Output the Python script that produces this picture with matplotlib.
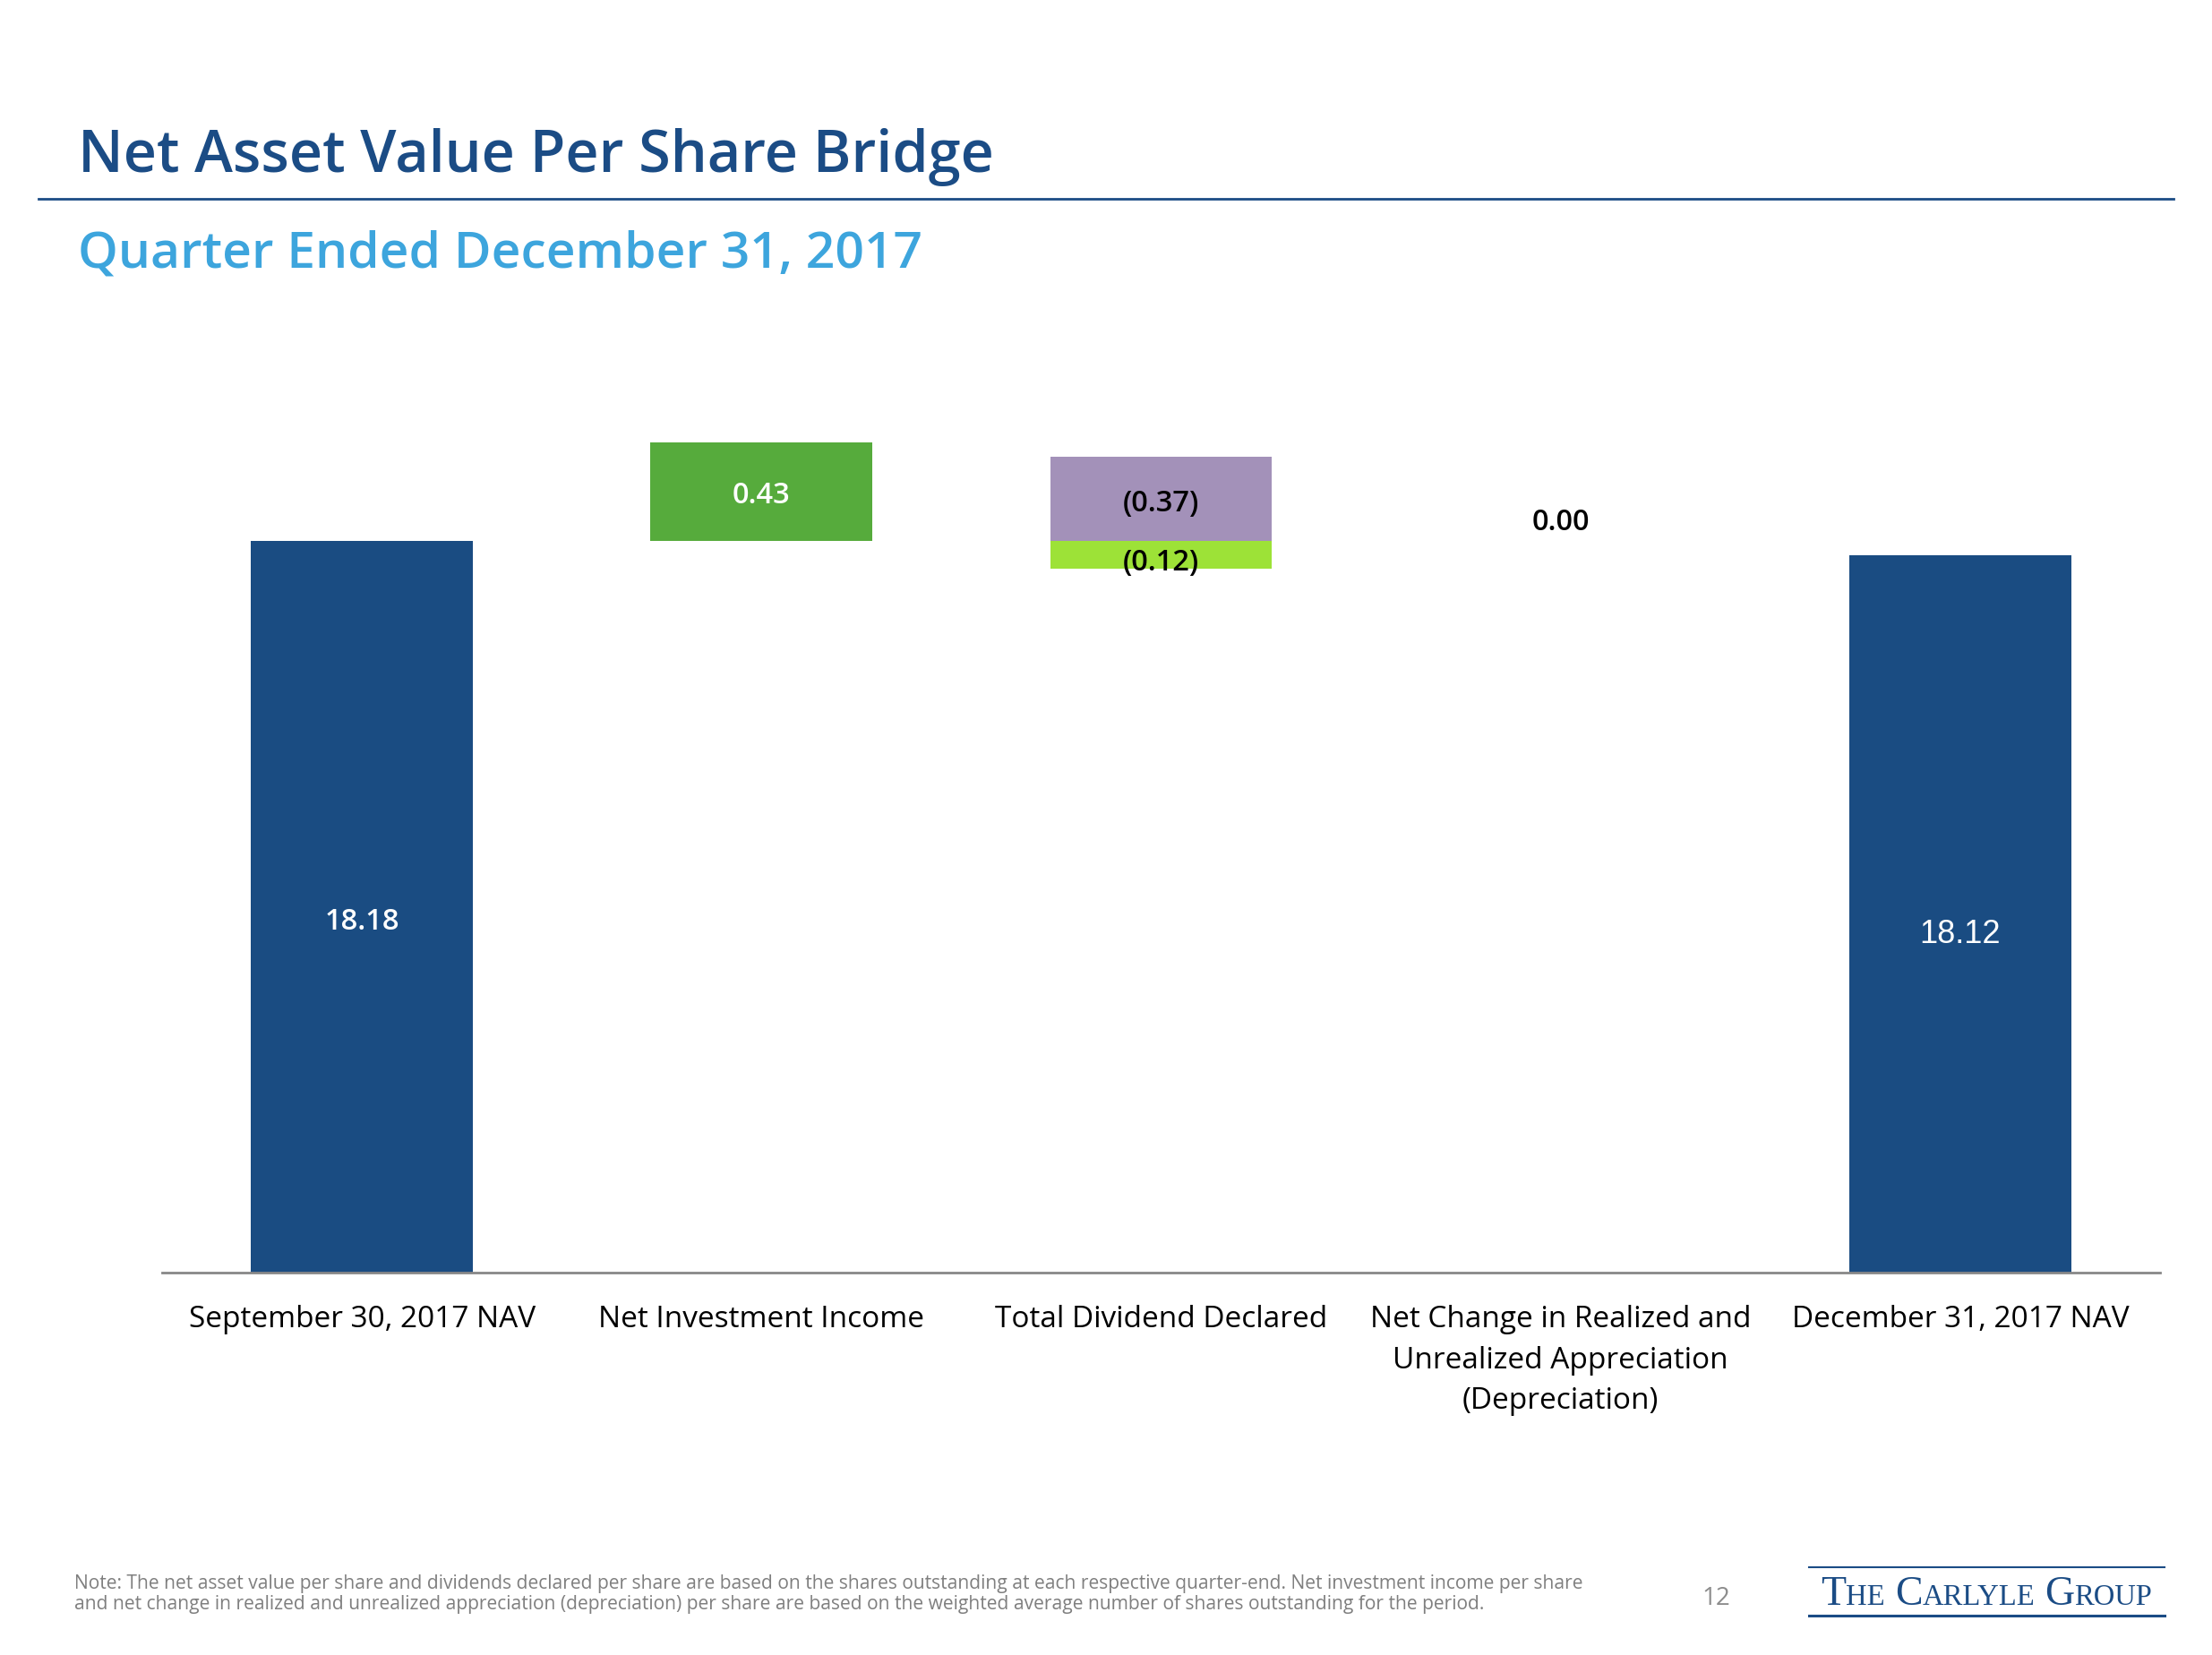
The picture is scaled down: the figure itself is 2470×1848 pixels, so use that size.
import numpy as np
import matplotlib
matplotlib.use('Agg')
import matplotlib.pyplot as plt
from matplotlib.lines import Line2D

plt.rcParams['font.family'] = ['Open Sans', 'DejaVu Sans']

# data
categories = ['September 30, 2017 NAV', 'Net Investment Income', 'Total Dividend Declared',
              'Net Change in Realized and\nUnrealized Appreciation\n(Depreciation)', 'December 31, 2017 NAV']
nav_start = 18.18
nii = 0.43
div_regular = -0.37
div_special = -0.12
net_change = 0.00
nav_end = 18.12

W, H = 2470, 1848
DPI = 100
fig = plt.figure(figsize=(W / DPI, H / DPI), dpi=DPI)
fig.patch.set_facecolor('white')

navy = '#1A4C82'
green = '#56AB3C'
purple = '#A391B9'
lime = '#9DE237'
grey_text = '#7F7F7F'

# header
fig.text(87 / W, 1 - 176 / H, 'Net Asset Value Per Share Bridge', fontsize=46.5, fontweight='semibold',
         color='#1B4C85', va='center', ha='left')
fig.add_artist(Line2D([43 / W, 2427 / W], [1 - 222 / H, 1 - 222 / H], color='#1B4C85', lw=2))
fig.text(87 / W, 1 - 284 / H, 'Quarter Ended December 31, 2017', fontsize=41, fontweight='semibold',
         color='#3DA5DD', va='center', ha='left')

# chart
ymin, ymax = 14.99, 18.9
scale = 256  # px per unit
ax = fig.add_axes([181 / W, 1 - 1421 / H, (2412 - 181) / W, (ymax - ymin) * scale / H])
ax.set_xlim(-0.5, 4.5)
ax.set_ylim(ymin, ymax)
bw = 0.555

x = np.arange(len(categories))
ax.bar(x[0], nav_start, width=bw, color=navy, zorder=2)
ax.bar(x[1], nii, bottom=nav_start, width=bw, color=green, zorder=2)
ax.bar(x[2], -div_regular, bottom=nav_start, width=bw, color=purple, zorder=2)
ax.bar(x[2], div_special, bottom=nav_start, width=bw, color=lime, zorder=2)
ax.bar(x[4], nav_end, width=bw, color=navy, zorder=2)

lab_kw = dict(ha='center', va='center', fontsize=23.5, fontweight='semibold', textcoords='offset points')
ax.annotate(f'{nav_start:.2f}', xy=(x[0], (ymin + nav_start) / 2), xytext=(0, -12), color='white', **lab_kw)
ax.annotate(f'{nii:.2f}', xy=(x[1], nav_start + nii / 2), xytext=(0, -3), color='white', **lab_kw)
ax.annotate(f'({-div_regular:.2f})', xy=(x[2], nav_start - div_regular / 2), xytext=(0, -4),
            color='black', **lab_kw)
ax.annotate(f'({-div_special:.2f})', xy=(x[2], nav_start + div_special / 2), xytext=(0, -6),
            color='black', **lab_kw)
ax.annotate(f'{net_change:.2f}', xy=(x[3], nav_start + nii + div_regular + div_special),
            xytext=(0, 26), color='black', **lab_kw)
ax.annotate(f'{nav_end:.2f}', xy=(x[4], (ymin + nav_end) / 2), xytext=(0, -17), color='white',
            ha='center', va='center', fontsize=26, family='Liberation Sans', textcoords='offset points')

ax.set_xticks(x)
ax.set_xticklabels(categories, fontsize=24, linespacing=1.5, color='black')
ax.tick_params(axis='x', length=0, pad=26)
ax.set_yticks([])
for s in ['top', 'right', 'left']:
    ax.spines[s].set_visible(False)
ax.spines['bottom'].set_color('#888888')
ax.spines['bottom'].set_linewidth(2)
ax.spines['bottom'].set_zorder(3)

# footer
fig.text(83 / W, 1 - 1780 / H,
         'Note: The net asset value per share and dividends declared per share are based on the shares outstanding at each respective quarter-end. Net investment income per share\n'
         'and net change in realized and unrealized appreciation (depreciation) per share are based on the weighted average number of shares outstanding for the period.',
         fontsize=15.1, color=grey_text, va='center', ha='left', linespacing=1.15)
fig.text(1916 / W, 1 - 1785 / H, '12', fontsize=20, color='#8C8C8C', va='center', ha='center')

# logo
fig.add_artist(Line2D([2020 / W, 2417 / W], [1 - 1750 / H] * 2, color='#1B4C85', lw=1.5))
fig.add_artist(Line2D([2020 / W, 2417 / W], [1 - 1804 / H] * 2, color='#1B4C85', lw=2.2))
renderer = fig.canvas.get_renderer()
xpos = 2033
base = 1 - 1792 / H
for word in ['THE', 'CARLYLE', 'GROUP']:
    for i, part in enumerate([word[0], word[1:]]):
        t = fig.text(xpos / W, base, part, fontsize=33 if i == 0 else 23.5, family='Liberation Serif',
                     color='#1B4C85', va='baseline', ha='left')
        xpos = t.get_window_extent(renderer).x1
    xpos += 11

fig.savefig('out.png', dpi=DPI, facecolor='white')
